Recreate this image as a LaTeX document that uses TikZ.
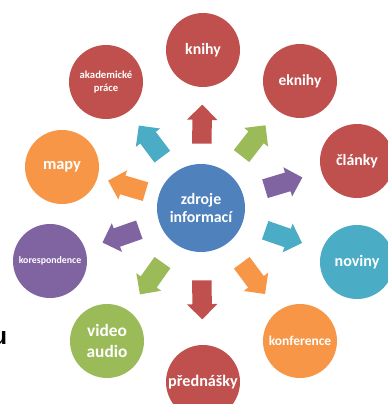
\documentclass[tikz,border=0pt]{standalone}
\usepackage{fontspec}
\setmainfont{Carlito}
\newfontfamily\arialfont{Liberation Sans}
\usetikzlibrary{calc,shapes.arrows}
\definecolor{zred}{HTML}{C0504D}
\definecolor{zblue}{HTML}{4F81BD}
\definecolor{zteal}{HTML}{4BACC6}
\definecolor{zorange}{HTML}{F79646}
\definecolor{zpurple}{HTML}{8064A2}
\definecolor{zgreen}{HTML}{9BBB59}
\tikzset{
  kruh/.style={circle, fill=#1, text=white, align=center, inner sep=0pt, minimum size=2.22cm},
  sipka/.style={single arrow, fill=#1, inner xsep=0pt, inner ysep=0.285cm, minimum height=1.17cm, single arrow head extend=0.165cm}
}

\begin{document}
\begin{tikzpicture}[x=0.03cm,y=-0.03cm]
	%%%%% START %%%%%
	\useasboundingbox (0,0) rectangle (387,404);
	
	\node[kruh=zblue, minimum size=2.64cm, font=\bfseries\fontsize{13.5}{15.3}\selectfont] (zdroje) at (201,208) {zdroje\\informací};
	
	\foreach \k/\px/\py/\c/\s/\f/\lf/\t in {
		knihy/203/50/zred/zred/13.5/15/knihy,
		eknihy/300/81/zred/zgreen/13.2/15/eknihy,
		clanky/357/161/zred/zpurple/13.5/15/články,
		noviny/357/262/zteal/zteal/13.7/15/noviny,
		konference/300/341/zorange/zorange/11.5/13/konference,
		prednasky/203/382/zred/zred/13.8/15/přednášky,
		video/107/341/zgreen/zgreen/14.8/17.9/{video\\audio},
		korespondence/50/261/zpurple/zpurple/8.4/10/korespondence,
		mapy/62/167/zorange/zorange/14/15/mapy,
		akademicke/106/82/zred/zteal/9.1/11/{akademické\\práce}}{
		\node[kruh=\c, font=\bfseries\fontsize{\f}{\lf}\selectfont] (\k) at (\px,\py) {\t};
		\path let \p1=($(\k)-(zdroje)$), \n1={atan2(\y1,\x1)} in
			node[sipka=\s, rotate=\n1] (s-\k) at ($(zdroje)!0.5!(\k)$) {};
	}
	
	\node[font=\arialfont\bfseries\fontsize{21}{21}\selectfont, anchor=south east, inner sep=0pt] (u) at (7.5,345) {u};
	%%%%% END %%%%%
\end{tikzpicture}
\end{document}
